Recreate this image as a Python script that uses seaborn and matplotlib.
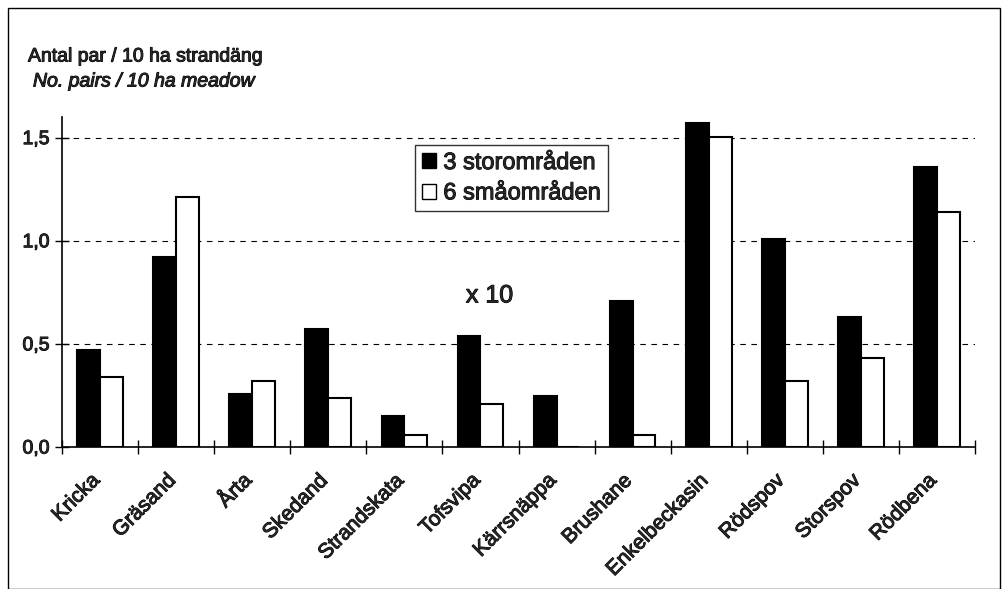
import matplotlib.pyplot as plt
import matplotlib.patheffects as pe
import matplotlib.transforms as mtrans
import seaborn as sns
import pandas as pd
from matplotlib.patches import Rectangle

arter = ['Kricka', 'Gräsand', 'Årta', 'Skedand', 'Strandskata', 'Tofsvipa',
         'Kärrsnäppa', 'Brushane', 'Enkelbeckasin', 'Rödspov', 'Storspov', 'Rödbena']
stor = [0.47, 0.92, 0.255, 0.57, 0.15, 0.54, 0.245, 0.71, 1.57, 1.01, 0.63, 1.36]
sma = [0.34, 1.21, 0.32, 0.24, 0.058, 0.21, 0.0, 0.06, 1.505, 0.32, 0.43, 1.14]
serier = ['3 storområden', '6 småområden']

df = pd.DataFrame({
    'art': arter * 2,
    'serie': [serier[0]] * len(arter) + [serier[1]] * len(arter),
    'varde': stor + sma,
})

sns.set_theme(style='white')
plt.rcParams['font.family'] = ['Liberation Sans', 'DejaVu Sans']

# lite tjockare text, som i den skannade förlagan
tjock = [pe.withStroke(linewidth=0.7, foreground='black')]

fig = plt.figure(figsize=(10.07, 5.89), dpi=100)
ax = fig.add_axes([62 / 1007, 1 - 447 / 589, (975 - 62) / 1007, (447 - 117) / 589])

sns.barplot(data=df, x='art', y='varde', hue='serie', palette=['black', 'white'],
            edgecolor='black', linewidth=1.5, width=0.6, ax=ax, legend=False)

ax.set_xlim(-0.5, len(arter) - 0.5)
ax.set_ylim(0, 1.6)
ax.set_yticks([0, 0.5, 1.0, 1.5])
ax.set_yticklabels(['0,0', '0,5', '1,0', '1,5'], fontsize=14)
ax.yaxis.grid(True, linestyle=(0, (5, 5)), color='black', linewidth=0.8)
ax.set_axisbelow(True)
for s in ['top', 'right']:
    ax.spines[s].set_visible(False)
for s in ['left', 'bottom']:
    ax.spines[s].set_color('black')
    ax.spines[s].set_linewidth(1.2)

ax.set_xticks(range(len(arter)))
ax.set_xticks([i + 0.5 for i in range(-1, len(arter))], minor=True)
ax.set_xticklabels(arter, rotation=45, ha='right', rotation_mode='anchor', fontsize=15)
ax.tick_params(axis='x', which='major', length=0, pad=17)
ax.tick_params(axis='x', which='minor', bottom=True, direction='inout', length=10,
               width=1, color='black')
ax.tick_params(axis='y', direction='inout', length=10, width=1, color='black', left=True, pad=4)
ax.set_xlabel('')
ax.set_ylabel('')

skift = mtrans.ScaledTranslation(-10 / 100, 0, fig.dpi_scale_trans)
for lbl in ax.get_xticklabels():
    lbl.set_transform(lbl.get_transform() + skift)
    lbl.set_path_effects(tjock)
for lbl in ax.get_yticklabels():
    lbl.set_path_effects(tjock)

ax.text(5.12, 0.735, 'x 10', fontsize=18, ha='center', va='center', path_effects=tjock)

fig.text(28 / 1007, 1 - 57 / 589, 'Antal par / 10 ha strandäng', fontsize=14, va='center',
         path_effects=tjock)
fig.text(33 / 1007, 1 - 82 / 589, 'No. pairs / 10 ha meadow', fontsize=14, style='italic',
         va='center', path_effects=tjock)

handles = [Rectangle((0, 0), 1, 1, facecolor='black', edgecolor='black'),
           Rectangle((0, 0), 1, 1, facecolor='white', edgecolor='black')]
leg = ax.legend(handles, serier, loc='upper left', bbox_to_anchor=(415 / 1007, 1 - 145 / 589),
                bbox_transform=fig.transFigure, fontsize=17, frameon=True, fancybox=False,
                handlelength=0.6, handleheight=0.6, handletextpad=0.3, borderpad=0.3,
                labelspacing=0.35, borderaxespad=0, edgecolor='black')
leg.get_frame().set_linewidth(1)
for t in leg.get_texts():
    t.set_path_effects(tjock)

fig.patches.append(Rectangle((8 / 1007, 0), (1000 - 8) / 1007, 1 - 8 / 589,
                             transform=fig.transFigure, fill=False, edgecolor='black',
                             linewidth=1))

plt.savefig('out.png', dpi=100)
